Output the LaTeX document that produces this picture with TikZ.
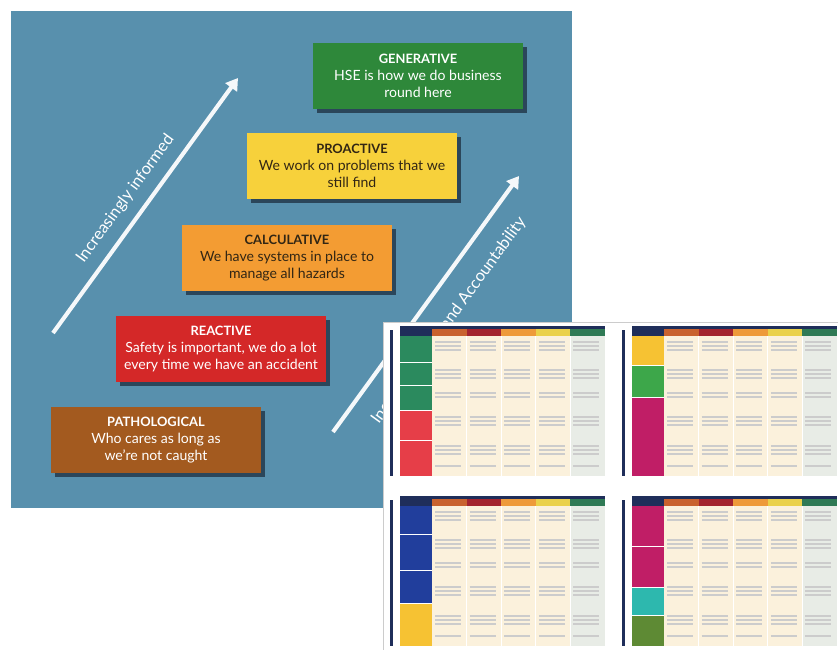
\documentclass[tikz,border=0pt]{standalone}
\usepackage{fontspec}
\setmainfont{Lato}
\usetikzlibrary{arrows.meta,shadows}

\definecolor{panelblue}{RGB}{88,144,173}
\definecolor{shadowdark}{RGB}{25,40,55}
\definecolor{arrowwhite}{RGB}{245,248,250}
\definecolor{genGreen}{RGB}{46,136,58}
\definecolor{proYellow}{RGB}{247,209,59}
\definecolor{calOrange}{RGB}{243,156,51}
\definecolor{reaRed}{RGB}{212,40,40}
\definecolor{patBrown}{RGB}{163,90,31}
\definecolor{darktext}{RGB}{50,38,20}
% sheet colours
\definecolor{navybar}{RGB}{31,46,90}
\definecolor{hdrA}{RGB}{201,98,46}
\definecolor{hdrB}{RGB}{163,36,47}
\definecolor{hdrC}{RGB}{238,154,58}
\definecolor{hdrD}{RGB}{234,209,74}
\definecolor{hdrE}{RGB}{47,122,85}
\definecolor{cellcream}{RGB}{251,241,220}
\definecolor{cellgrey}{RGB}{232,236,230}
\definecolor{tgreen}{RGB}{43,138,94}
\definecolor{tred}{RGB}{230,62,72}
\definecolor{tyellow}{RGB}{246,194,51}
\definecolor{tlgreen}{RGB}{61,167,74}
\definecolor{tmagenta}{RGB}{192,30,102}
\definecolor{tblue}{RGB}{33,62,156}
\definecolor{tteal}{RGB}{45,184,174}
\definecolor{tolive}{RGB}{94,138,52}

\newcommand{\lvltitle}[1]{{\fontsize{11}{14.5}\selectfont\bfseries #1}}

% one quarter of the culture matrix sheet: origin x, origin y, side blocks
\newcommand{\sheetquad}[3]{%
  \begin{scope}[shift={(#1,#2)}]
    \fill[navybar] (0,4) rectangle (3,150);
    \fill[navybar] (10,0) rectangle (215,3);
    \fill[navybar] (10,3) rectangle (42,10);
    \foreach \c/\col in {0/hdrA,1/hdrB,2/hdrC,3/hdrD,4/hdrE}
      \fill[\col] ({42+34.6*\c},3) rectangle ({42+34.6*(\c+1)},10);
    \fill[cellcream] (42,10) rectangle (180.4,150);
    \fill[cellgrey] (180.4,10) rectangle (215,150);
    \foreach \a/\b/\col in {#3}
      \fill[\col] (10,\a) rectangle (42,\b);
    \foreach \c in {1,...,4}
      \draw[white, line width=0.8pt] ({42+34.6*\c},10) -- ++(0,140);
    \foreach \r in {16,20,24,44,48,52,67,71,91,95,99,120,124,128,140}
      \foreach \c in {0,...,4}
        \draw[gray!40, line width=0.9pt] ({45+34.6*\c},\r) -- ++(26,0);
  \end{scope}}

\begin{document}
\begin{tikzpicture}[x=0.03cm, y=-0.03cm,
    level/.style={minimum width=6.3cm, minimum height=1.98cm, align=center, inner sep=1pt,
      font=\fontsize{12}{14.5}\selectfont,
      drop shadow={shadow xshift=3pt, shadow yshift=-3pt, fill=shadowdark, opacity=.7}},
    bigarrow/.style={draw=arrowwhite, line width=3.5pt, -{Triangle[length=10pt, width=12pt]}},
    slant/.style={sloped, inner sep=0pt, text=white, font=\fontsize{14}{16}\selectfont}]
  \useasboundingbox (0,0) rectangle (838,650);

  % Panel
  \fill[panelblue] (11,11) rectangle (572,508);

  % Levels of the ladder
  \node[level, fill=genGreen, text=white] (gen) at (418,76)
    {\lvltitle{GENERATIVE}\\HSE is how we do business\\round here};
  \node[level, fill=proYellow, text=darktext] (pro) at (352,166)
    {\lvltitle{PROACTIVE}\\We work on problems that we\\still find};
  \node[level, fill=calOrange, text=darktext] (cal) at (287,258)
    {\lvltitle{CALCULATIVE}\\We have systems in place to\\manage all hazards};
  \node[level, fill=reaRed, text=white] (rea) at (221,349)
    {\lvltitle{REACTIVE}\\Safety is important, we do a lot\\every time we have an accident};
  \node[level, fill=patBrown, text=white] (pat) at (156,440)
    {\lvltitle{PATHOLOGICAL}\\Who cares as long as\\we're not caught};

  % Arrows
  \coordinate (infoTail) at (53,333);
  \coordinate (infoTip) at (238,78);
  \coordinate (trustTail) at (333,432);
  \coordinate (trustTip) at (519,176);
  \draw[bigarrow] (infoTail) -- (infoTip)
    node[slant, pos=.48, above=9pt] (infoLbl) {Increasingly informed};
  \draw[bigarrow] (trustTail) -- (trustTip)
    node[slant, pos=.5, below=16pt] (trustLbl) {Increasing Trust and Accountability};

  % Matrix sheet
  \fill[white, draw=black!20] (383,322) rectangle (838,650);
  \sheetquad{390}{326}{10/36/tgreen,36.8/59/tgreen,59.8/84/tgreen,84.8/114/tred,114.8/150/tred}
  \sheetquad{622}{326}{10/39/tyellow,39.8/71/tlgreen,71.8/150/tmagenta}
  \sheetquad{390}{496}{10/38/tblue,38.8/74/tblue,74.8/107/tblue,107.8/150/tyellow}
  \sheetquad{622}{496}{10/50/tmagenta,50.8/91/tmagenta,91.8/119/tteal,119.8/150/tolive}
\end{tikzpicture}
\end{document}
